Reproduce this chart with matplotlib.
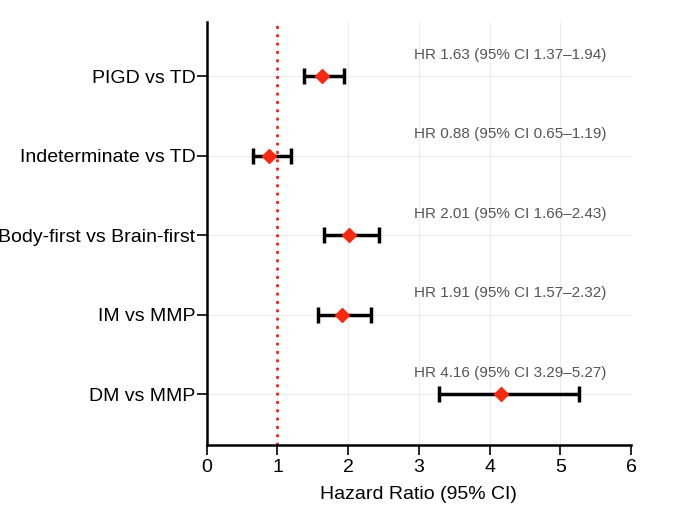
import matplotlib.pyplot as plt
import numpy as np

plt.rcParams['font.family'] = ['Liberation Sans', 'DejaVu Sans']

# data (top to bottom)
labels = ["PIGD vs TD", "Indeterminate vs TD", "Body-first vs Brain-first",
          "IM vs MMP", "DM vs MMP"]
hr = [1.63, 0.88, 2.01, 1.91, 4.16]
ci_low = [1.37, 0.65, 1.66, 1.57, 3.29]
ci_high = [1.94, 1.19, 2.43, 2.32, 5.27]

fig = plt.figure(figsize=(6.8, 5.11), dpi=100)
ax = fig.add_axes([0.304, 0.129, 0.624, 0.828])

ypos = np.arange(len(labels))[::-1] + 1
hr_arr = np.array(hr)
xerr = [hr_arr - np.array(ci_low), np.array(ci_high) - hr_arr]

# grid
ax.set_axisbelow(True)
ax.grid(True, color='#ececec', linewidth=0.8)

ax.axvline(1, color='#e8231a', linestyle=(0, (1, 2)), linewidth=2, zorder=2)

ax.errorbar(hr, ypos, xerr=xerr, fmt='none', ecolor='black',
            elinewidth=2.5, capsize=6, capthick=2.5, zorder=3)
ax.plot(hr, ypos, 'D', color='#f52a10', markersize=7, zorder=4)

for y, h, lo, hi in zip(ypos, hr, ci_low, ci_high):
    ax.text(4.29, y + 0.27, f"HR {h:.2f} (95% CI {lo:.2f}\u2013{hi:.2f})",
            ha='center', va='center', fontsize=11, color='#555555')

ax.set_xlim(0, 6)
ax.set_ylim(0.36, 5.68)
ax.set_xticks(range(7))
ax.set_yticks(ypos)
ax.set_yticklabels(labels)
ax.tick_params(axis='both', labelsize=14, width=1.2, length=7, color='black')
ax.tick_params(axis='y', pad=1)
ax.tick_params(axis='x', pad=3)
ax.set_xlabel("Hazard Ratio (95% CI)", fontsize=14, labelpad=7)

for s in ['top', 'right']:
    ax.spines[s].set_visible(False)
for s in ['left', 'bottom']:
    ax.spines[s].set_linewidth(1.8)

fig.savefig("out.png", dpi=100)
